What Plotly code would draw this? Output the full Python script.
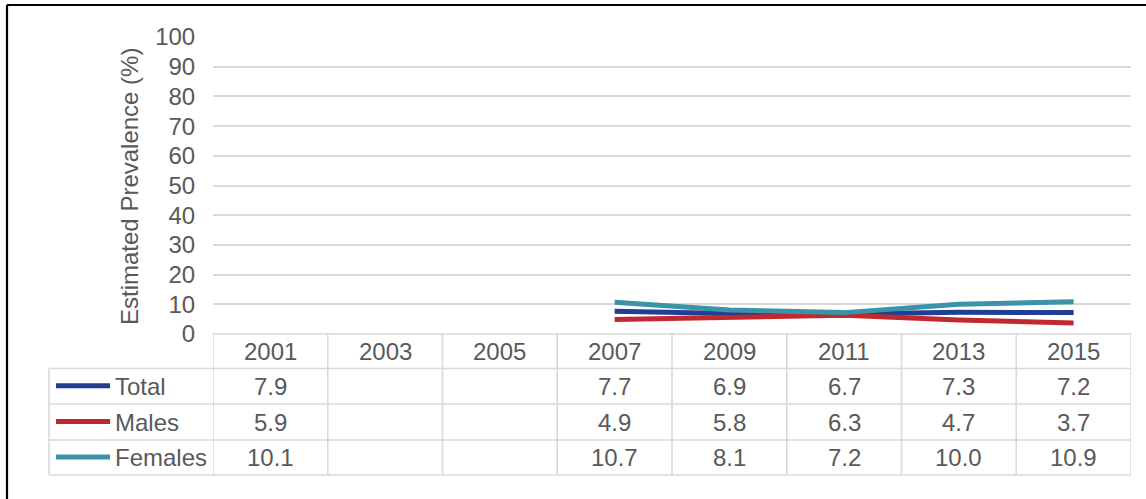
import plotly.graph_objects as go

years = ["2001", "2003", "2005", "2007", "2009", "2011", "2013", "2015"]
total = [7.9, None, None, 7.7, 6.9, 6.7, 7.3, 7.2]
males = [5.9, None, None, 4.9, 5.8, 6.3, 4.7, 3.7]
females = [10.1, None, None, 10.7, 8.1, 7.2, 10.0, 10.9]
series_names = ["Total", "Males", "Females"]
series_values = [total, males, females]
colors = ["#203f93", "#c2292e", "#3a93a7"]
y_ticks = list(range(0, 101, 10))
y_title = "Estimated Prevalence (%)"

W, H = 1146, 499
L, R, T, B = 213, 1131, 37, 334
FONT = "Liberation Sans, Arial, sans-serif"
TXT = "#595959"
GRID = "#d9d9d9"
FS = 24

def px(xp):
    return (xp - L) / (R - L)

def py(yp):
    return (B - yp) / (B - T)

fig = go.Figure()
for name, vals, c in zip(series_names, series_values, colors):
    fig.add_trace(go.Scatter(x=years, y=vals, mode="lines", name=name,
                             line=dict(color=c, width=5), connectgaps=False,
                             showlegend=False))

shapes = []
annotations = []

# table geometry (pixels)
row_edges = [334, 368.5, 404, 440, 475]
leg_left = 49

# vertical lines at category boundaries
for i in range(len(years) + 1):
    shapes.append(dict(type="line", xref="x", yref="paper", x0=i - 0.5, x1=i - 0.5,
                       y0=py(row_edges[0]), y1=py(row_edges[-1]),
                       line=dict(color=GRID, width=1.6)))
# legend column left edge
shapes.append(dict(type="line", xref="paper", yref="paper", x0=px(leg_left), x1=px(leg_left),
                   y0=py(row_edges[1]), y1=py(row_edges[-1]), line=dict(color=GRID, width=1.6)))
# horizontal lines
shapes.append(dict(type="line", xref="paper", yref="paper", x0=0, x1=1,
                   y0=py(row_edges[0]), y1=py(row_edges[0]), line=dict(color=GRID, width=1.6)))
for ye in row_edges[1:]:
    shapes.append(dict(type="line", xref="paper", yref="paper", x0=px(leg_left), x1=1,
                       y0=py(ye), y1=py(ye), line=dict(color=GRID, width=1.6)))

# header
for i, yr in enumerate(years):
    annotations.append(dict(x=i, y=py((row_edges[0] + row_edges[1]) / 2 + 0.5), xref="x", yref="paper",
                            text=yr, showarrow=False, xanchor="center", yanchor="middle",
                            font=dict(family=FONT, size=FS, color=TXT)))
# rows
for r, (name, vals, c) in enumerate(zip(series_names, series_values, colors)):
    yc = (row_edges[r + 1] + row_edges[r + 2]) / 2 + 0.5
    shapes.append(dict(type="line", xref="paper", yref="paper", x0=px(56), x1=px(110),
                       y0=py(yc - 1), y1=py(yc - 1), line=dict(color=c, width=5)))
    annotations.append(dict(x=px(113), y=py(yc), xref="paper", yref="paper", text=name,
                            showarrow=False, xanchor="left", yanchor="middle",
                            font=dict(family=FONT, size=FS, color=TXT)))
    for i, v in enumerate(vals):
        if v is None:
            continue
        annotations.append(dict(x=i, y=py(yc), xref="x", yref="paper", text=f"{v:.1f}",
                                showarrow=False, xanchor="center", yanchor="middle",
                                font=dict(family=FONT, size=FS, color=TXT)))

# y-axis title
annotations.append(dict(x=px(130), y=py(187), xref="paper", yref="paper", text=y_title,
                        textangle=-90, showarrow=False, xanchor="center", yanchor="middle",
                        font=dict(family=FONT, size=FS, color=TXT)))

# outer border (top and left)
shapes.append(dict(type="line", xref="paper", yref="paper", x0=px(7), x1=px(W + 5),
                   y0=py(5), y1=py(5), line=dict(color="black", width=2.2)))
shapes.append(dict(type="line", xref="paper", yref="paper", x0=px(7), x1=px(7),
                   y0=py(5), y1=py(H + 5), line=dict(color="black", width=2.2)))

fig.update_layout(
    width=W, height=H,
    margin=dict(l=L, r=W - R, t=T, b=H - B, pad=0),
    paper_bgcolor="white", plot_bgcolor="white",
    shapes=shapes, annotations=annotations,
    xaxis=dict(type="category", categoryorder="array", categoryarray=years,
               range=[-0.5, len(years) - 0.5], showticklabels=False, showgrid=False,
               zeroline=False, showline=False, ticks=""),
    yaxis=dict(range=[0, 100], tickvals=y_ticks, showgrid=True, gridcolor=GRID, gridwidth=1.6,
               zeroline=False, showline=False, ticks="outside", ticklen=12,
               tickcolor="rgba(0,0,0,0)",
               tickfont=dict(family=FONT, size=FS, color=TXT)),
)

fig.write_html("out.html")
